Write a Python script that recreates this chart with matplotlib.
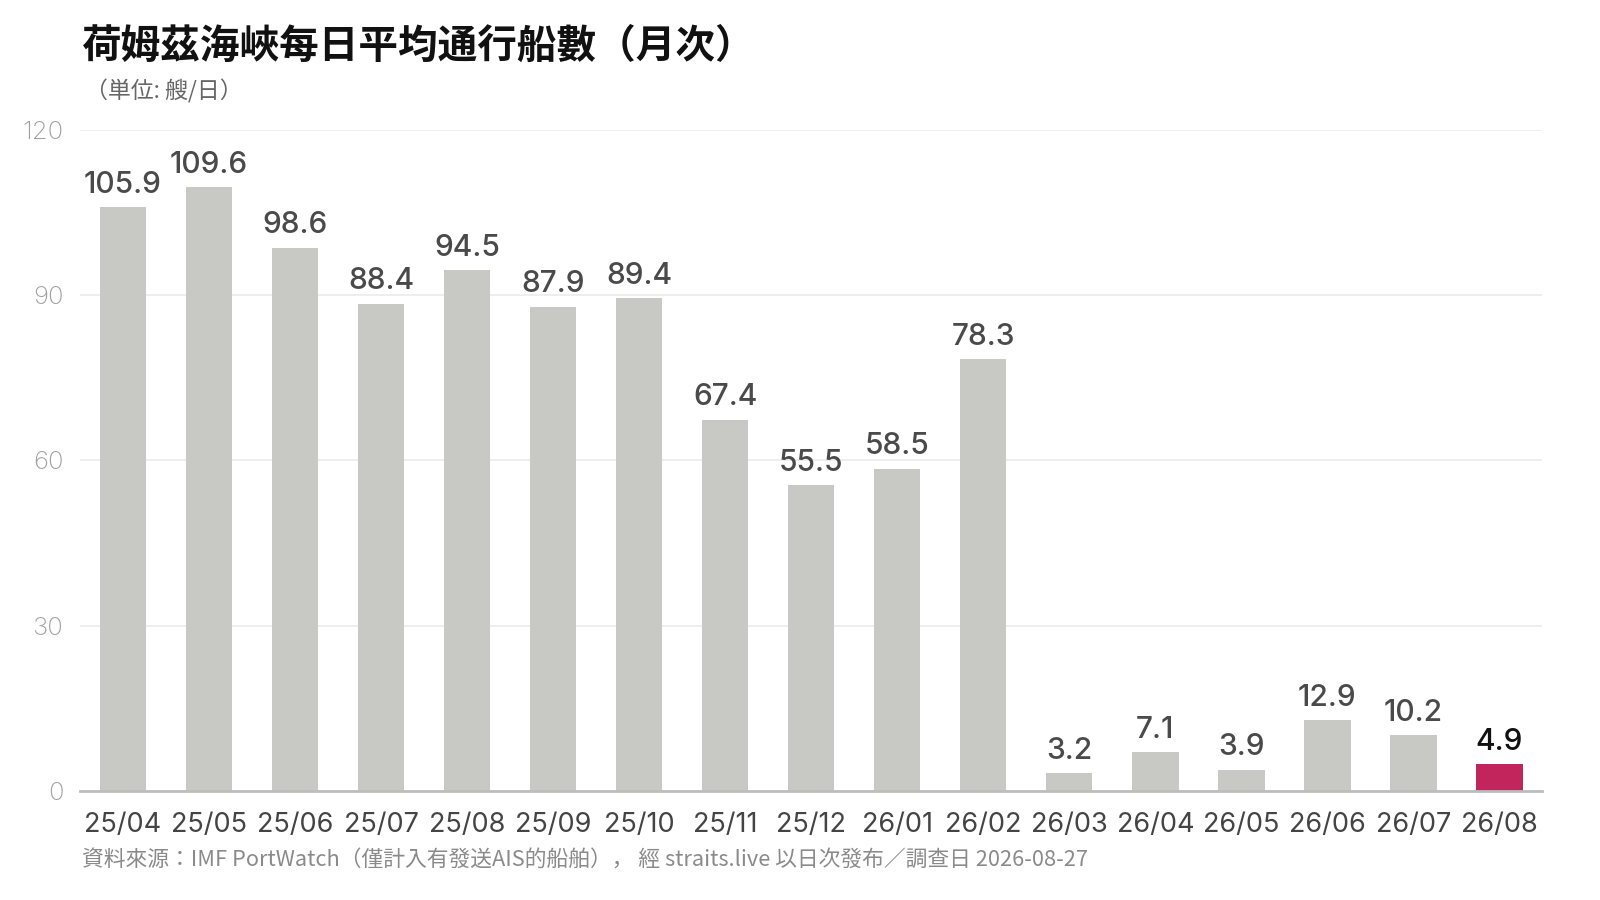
import matplotlib.pyplot as plt

plt.rcParams['font.family'] = ['Noto Sans CJK JP', 'DejaVu Sans']

months = ['25/04', '25/05', '25/06', '25/07', '25/08', '25/09', '25/10', '25/11', '25/12',
          '26/01', '26/02', '26/03', '26/04', '26/05', '26/06', '26/07', '26/08']
ships_per_day = [105.9, 109.6, 98.6, 88.4, 94.5, 87.9, 89.4, 67.4, 55.5,
                 58.5, 78.3, 3.2, 7.1, 3.9, 12.9, 10.2, 4.9]
y_ticks = [0, 30, 60, 90, 120]

title = '荷姆茲海峽每日平均通行船數（月次）'
unit = '（単位: 艘/日）'
source = '資料來源：IMF PortWatch（僅計入有發送AIS的船舶）， 經 straits.live 以日次發布／調查日 2026-08-27'

grey_bar = '#c8c9c4'
highlight = '#c2255c'
num_font = ['Inter', 'Noto Sans CJK JP']

fig = plt.figure(figsize=(16, 9), dpi=100)
ax = fig.add_axes([0.050, 0.121, 0.914, 0.735])

x = list(range(len(months)))
colors = [grey_bar] * (len(months) - 1) + [highlight]
ax.bar(x, ships_per_day, width=0.54, color=colors, zorder=2)

for i, v in enumerate(ships_per_day):
    last = i == len(months) - 1
    ax.annotate(f'{v:.1f}', (i, v), xytext=(0, 6), textcoords='offset points',
                ha='center', va='bottom', fontsize=21.5, fontweight='medium',
                family=num_font, color='#111111' if last else '#4a4a4a')

ax.set_xlim(-0.5, len(months) - 0.5)
ax.set_ylim(0, 120)
ax.set_yticks(y_ticks)
ax.set_xticks(x)
ax.set_xticklabels(months)
ax.tick_params(axis='x', length=0, pad=15, labelsize=19.5, labelcolor='#444444')
ax.tick_params(axis='y', length=0, pad=12, labelsize=18.5, labelcolor='#a0a0a0')
for lab in ax.get_xticklabels():
    lab.set_family(num_font)
for lab in ax.get_yticklabels():
    lab.set_family(num_font)
    lab.set_fontweight('light')

ax.grid(axis='y', color='#ebebeb', linewidth=1.2, zorder=0)
for s in ['top', 'right', 'left']:
    ax.spines[s].set_visible(False)
ax.spines['bottom'].set_color('#bdbdbd')
ax.spines['bottom'].set_linewidth(2)
ax.spines['bottom'].set_zorder(3)

fig.text(0.051, 0.949, title, fontsize=28.5, fontweight='bold', color='#111111', va='center')
fig.text(0.053, 0.898, unit, fontsize=16.5, color='#666666', va='center')
fig.text(0.051, 0.045, source, fontsize=15.7, color='#8a8a8a', va='center')

fig.savefig('out.png', dpi=100)
